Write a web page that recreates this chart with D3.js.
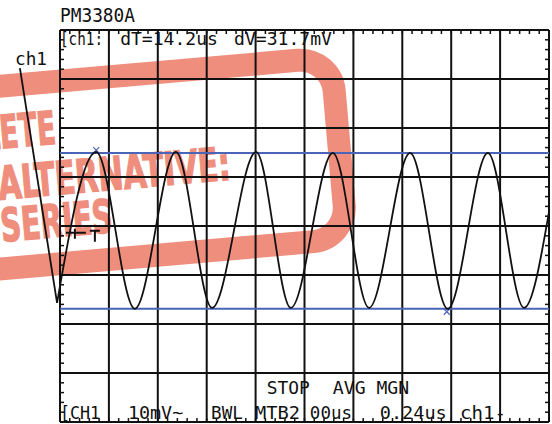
<!DOCTYPE html>
<html>
<head>
<meta charset="utf-8">
<script src="https://cdn.jsdelivr.net/npm/d3@7"></script>
<style>
body { margin: 0; background: #fff; }
svg { display: block; }
.scope { font-family: "DejaVu Sans Mono", "Liberation Mono", monospace; fill: #111; }
.stamp { font-family: "Liberation Sans Narrow", "DejaVu Sans Condensed", sans-serif; font-weight: bold; fill: #ef8e7d; stroke: #ef8e7d; stroke-width: 1.4; }
</style>
</head>
<body>
<svg id="chart" width="552" height="424"></svg>
<script>
// screen is 10 x 8 divisions, values below are in divisions
// waveform peaks / troughs (time div, volt div)
var traceTime = [-0.06, 0.74, 1.53, 2.37, 3.11, 4.01, 4.72, 5.58, 6.32, 7.16, 7.93, 8.75, 9.49, 10.0];
var traceVolt = [-1.57, 1.51, -1.69, 1.51, -1.67, 1.51, -1.67, 1.49, -1.67, 1.49, -1.69, 1.49, -1.67, 0.29];

// "ch1" label pointer running into the first trough
var labelTime = [-0.82, -0.06];
var labelVolt = [3.22, -1.57];

// voltage cursors (dV = 31.7mV at 10mV/div)
var cursorLevels = [1.49, -1.69];
var markTime = [0.74, 7.91];
var markVolt = [1.55, -1.75];

var trigTime = 0.1;
var trigLevel = -0.14;

var header = 'PM3380A';
var topReadout = [
  {text: '[ch1:', x0: 0.0, x1: 0.88},
  {text: 'dT=14.2us', x0: 1.23, x1: 3.23},
  {text: 'dV=31.7mV', x0: 3.56, x1: 5.56}
];
var statusRow = [
  {text: 'STOP', x0: 4.23, x1: 5.11},
  {text: 'AVG MGN', x0: 5.58, x1: 7.14}
];
var bottomRow = [
  {text: '[CH1', x0: 0.0, x1: 0.82},
  {text: '10mV~', x0: 1.39, x1: 2.52},
  {text: 'BWL', x0: 3.09, x1: 3.74},
  {text: 'MTB2', x0: 3.99, x1: 4.91},
  {text: '00us', x0: 5.11, x1: 5.97},
  {text: '0.24us', x0: 6.54, x1: 7.91},
  {text: 'ch1-', x0: 8.18, x1: 9.12}
];

var svg = d3.select('#chart');
svg.append('rect').attr('width', 552).attr('height', 424).attr('fill', '#fff');

var x = d3.scaleLinear().domain([0, 10]).range([60, 549]);
var y = d3.scaleLinear().domain([-4, 4]).range([422, 30]);

// stamp sits under the screen drawing
var stamp = svg.append('g').attr('transform', 'rotate(-5)');
stamp.append('rect')
  .attr('x', -300).attr('y', 86)
  .attr('width', 625).attr('height', 182)
  .attr('rx', 34)
  .attr('fill', 'none')
  .attr('stroke', '#ef8e7d')
  .attr('stroke-width', 23);
stamp.append('text').attr('class', 'stamp')
  .attr('x', 44).attr('y', 148).attr('text-anchor', 'end')
  .attr('font-size', 46)
  .attr('textLength', 160).attr('lengthAdjust', 'spacingAndGlyphs')
  .text('OBSOLETE');
stamp.append('text').attr('class', 'stamp')
  .attr('x', -18).attr('y', 199)
  .attr('font-size', 46)
  .attr('textLength', 233).attr('lengthAdjust', 'spacingAndGlyphs')
  .text('ALTERNATIVE:');
stamp.append('text').attr('class', 'stamp')
  .attr('x', -19).attr('y', 241)
  .attr('font-size', 46)
  .attr('textLength', 112).attr('lengthAdjust', 'spacingAndGlyphs')
  .text('SERIES');

// grid
var grid = svg.append('g');
grid.selectAll('line.v')
  .data(d3.range(0, 11))
  .enter().append('line')
  .attr('x1', function(d) { return x(d); })
  .attr('x2', function(d) { return x(d); })
  .attr('y1', y(4)).attr('y2', y(-4))
  .attr('stroke', '#111').attr('stroke-width', 2);
grid.selectAll('line.h')
  .data(d3.range(-4, 5))
  .enter().append('line')
  .attr('y1', function(d) { return y(d); })
  .attr('y2', function(d) { return y(d); })
  .attr('x1', x(0)).attr('x2', x(10))
  .attr('stroke', '#111').attr('stroke-width', 2);

// small ticks every 0.2 div on the frame edges
var tx = d3.range(0, 50).map(function(i) { return i / 5; });
var ty = d3.range(-20, 20).map(function(i) { return i / 5; });
var ticks = svg.append('g').attr('stroke', '#111').attr('stroke-width', 1.5);
tx.forEach(function(d) {
  ticks.append('line').attr('x1', x(d)).attr('x2', x(d)).attr('y1', y(4)).attr('y2', y(4) + 4);
  ticks.append('line').attr('x1', x(d)).attr('x2', x(d)).attr('y1', y(-4)).attr('y2', y(-4) - 4);
});
ty.forEach(function(d) {
  ticks.append('line').attr('y1', y(d)).attr('y2', y(d)).attr('x1', x(0)).attr('x2', x(0) + 4);
  ticks.append('line').attr('y1', y(d)).attr('y2', y(d)).attr('x1', x(10)).attr('x2', x(10) - 4);
});

// cursors
svg.selectAll('line.cursor')
  .data(cursorLevels)
  .enter().append('line')
  .attr('x1', x(0)).attr('x2', x(10))
  .attr('y1', function(d) { return y(d); })
  .attr('y2', function(d) { return y(d); })
  .attr('stroke', '#4a64b8').attr('stroke-width', 2);

markTime.forEach(function(t, i) {
  var cx = x(t), cy = y(markVolt[i]);
  svg.append('path')
    .attr('d', 'M' + (cx - 3) + ',' + (cy - 3) + 'L' + (cx + 3) + ',' + (cy + 3) +
               'M' + (cx - 3) + ',' + (cy + 3) + 'L' + (cx + 3) + ',' + (cy - 3))
    .attr('stroke', '#4a64b8').attr('stroke-width', 1.2).attr('fill', 'none');
});

// trace
var trace = traceTime.map(function(t, i) { return [t, traceVolt[i]]; });
var line = d3.line()
  .x(function(d) { return x(d[0]); })
  .y(function(d) { return y(d[1]); })
  .curve(d3.curveMonotoneX);
svg.append('path')
  .datum(trace)
  .attr('d', line)
  .attr('fill', 'none').attr('stroke', '#111').attr('stroke-width', 1.8);

var pointer = labelTime.map(function(t, i) { return [t, labelVolt[i]]; });
svg.append('path')
  .datum(pointer)
  .attr('d', d3.line().x(function(d) { return x(d[0]); }).y(function(d) { return y(d[1]); }))
  .attr('fill', 'none').attr('stroke', '#111').attr('stroke-width', 1.8);

svg.append('text').attr('class', 'scope')
  .attr('x', 15).attr('y', 65)
  .attr('font-size', 17)
  .attr('textLength', 32).attr('lengthAdjust', 'spacingAndGlyphs')
  .text('ch1');

// trigger level marker
var tgx = x(trigTime), tgy = y(trigLevel);
svg.append('path')
  .attr('d', 'M' + (tgx + 1) + ',' + tgy + 'H' + (tgx + 21) +
             'M' + (tgx + 10) + ',' + (tgy - 4) + 'V' + (tgy + 6) +
             'M' + (tgx + 25) + ',' + (tgy - 2) + 'H' + (tgx + 35) +
             'M' + (tgx + 30) + ',' + (tgy - 2) + 'V' + (tgy + 9))
  .attr('stroke', '#111').attr('stroke-width', 2).attr('fill', 'none');

// readouts
svg.append('text').attr('class', 'scope')
  .attr('x', 60).attr('y', 22)
  .attr('font-size', 19)
  .attr('textLength', 75).attr('lengthAdjust', 'spacingAndGlyphs')
  .text(header);

function readout(items, baseline) {
  svg.selectAll(null)
    .data(items)
    .enter().append('text')
    .attr('class', 'scope')
    .attr('x', function(d) { return x(d.x0); })
    .attr('y', baseline)
    .attr('font-size', 17)
    .attr('textLength', function(d) { return x(d.x1) - x(d.x0); })
    .attr('lengthAdjust', 'spacingAndGlyphs')
    .text(function(d) { return d.text; });
}
readout(topReadout, 45);
readout(statusRow, 394);
readout(bottomRow, 419);
</script>
</body>
</html>
